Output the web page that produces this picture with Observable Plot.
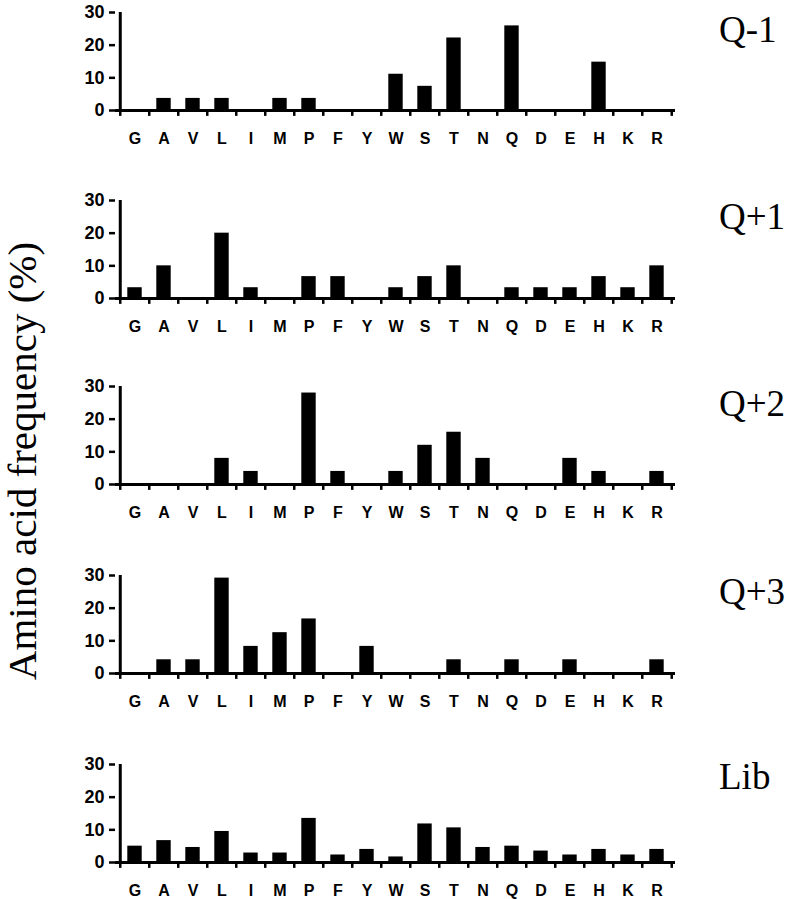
<!DOCTYPE html>
<html>
<head>
<meta charset="utf-8">
<script src="https://cdn.jsdelivr.net/npm/d3@7"></script>
<script src="https://cdn.jsdelivr.net/npm/@observablehq/plot@0.6"></script>
<style>
  html, body { margin: 0; padding: 0; background: #fff; }
  #wrap { position: relative; width: 789px; height: 899px; overflow: hidden; background: #fff; }
  .panel { position: absolute; left: 0; }
  .plabel { position: absolute; left: 719px; font-family: "Liberation Serif", "Times New Roman", serif; font-size: 37px; line-height: 37px; color: #000; white-space: nowrap; }
  #ytitle { position: absolute; font-family: "Liberation Serif", "Times New Roman", serif; font-size: 41px; line-height: 41px; white-space: nowrap; color: #000;
            left: 22px; top: 461px; transform: translate(-50%, -50%) rotate(-90deg); }
</style>
</head>
<body>
<div id="wrap"></div>
<script>
const aminoAcids = ["G","A","V","L","I","M","P","F","Y","W","S","T","N","Q","D","E","H","K","R"];
const panelNames = ["Q-1","Q+1","Q+2","Q+3","Lib"];
const qMinus1 = [0,3.7,3.7,3.7,0,3.7,3.7,0,0,11.1,7.4,22.2,0,25.9,0,0,14.8,0,0];
const qPlus1  = [3.3,10,0,20,3.3,0,6.7,6.7,0,3.3,6.7,10,0,3.3,3.3,3.3,6.7,3.3,10];
const qPlus2  = [0,0,0,8,4,0,28,4,0,4,12,16,8,0,0,8,4,0,4];
const qPlus3  = [0,4.2,4.2,29.2,8.3,12.5,16.7,0,8.3,0,0,4.2,0,4.2,0,4.2,0,0,4.2];
const library = [5.0,6.7,4.6,9.5,2.9,2.9,13.5,2.3,4.0,1.7,11.8,10.6,4.6,5.0,3.5,2.3,4.0,2.3,4.0];
const yTicks = [0,10,20,30];

const series = [qMinus1, qPlus1, qPlus2, qPlus3, library];
const panelTops = [2, 190, 376, 565, 754];
const labelTops = [11, 198, 385, 573, 758];

const W = 789, ML = 115, MR = 114, MT = 10, PH = 98, MB = 40;
const step = (W - ML - MR) / aminoAcids.length;
const tickFont = '"Liberation Sans Narrow", "Arial Narrow", "Liberation Sans", Arial, sans-serif';

const wrap = document.getElementById("wrap");

series.forEach((vals, k) => {
  const data = aminoAcids.map((a, i) => ({aa: a, v: vals[i]}));
  const chart = Plot.plot({
    width: W,
    height: MT + PH + MB,
    marginLeft: ML,
    marginRight: MR,
    marginTop: MT,
    marginBottom: MB,
    style: {fontFamily: tickFont, background: "white", overflow: "visible"},
    x: {type: "band", domain: aminoAcids, padding: 0},
    y: {domain: [0, 30]},
    marks: [
      Plot.barY(data.filter(d => d.v > 0), {x: "aa", y: "v", fill: "black", insetLeft: 7.3, insetRight: 7.3}),
      // boundary ticks below the x axis
      Plot.ruleX(aminoAcids, {x: d => d, y1: 0, y2: -1.8, dx: -step / 2, stroke: "black", strokeWidth: 2.5}),
      Plot.ruleX([aminoAcids[aminoAcids.length - 1]], {x: d => d, y1: 0, y2: -1.8, dx: step / 2, stroke: "black", strokeWidth: 2.5}),
      // y axis line
      Plot.ruleX([aminoAcids[0]], {x: d => d, y1: 0, y2: 30, dx: -step / 2, stroke: "black", strokeWidth: 3}),
      // x axis line
      Plot.ruleY([0], {stroke: "black", strokeWidth: 3}),
      Plot.axisY({ticks: yTicks, tickSize: 6, tickPadding: 5, strokeWidth: 2.5, fontSize: 18, fontWeight: "bold", label: null, fill: "black"}),
      Plot.axisX({tickSize: 0, tickPadding: 22, fontSize: 16, fontWeight: "bold", label: null, fill: "black"})
    ]
  });
  chart.classList.add("panel");
  chart.style.top = panelTops[k] + "px";
  wrap.appendChild(chart);

  const lab = document.createElement("div");
  lab.className = "plabel";
  lab.style.top = labelTops[k] + "px";
  lab.textContent = panelNames[k];
  wrap.appendChild(lab);
});

const yt = document.createElement("div");
yt.id = "ytitle";
yt.textContent = "Amino acid frequency (%)";
wrap.appendChild(yt);
</script>
</body>
</html>
